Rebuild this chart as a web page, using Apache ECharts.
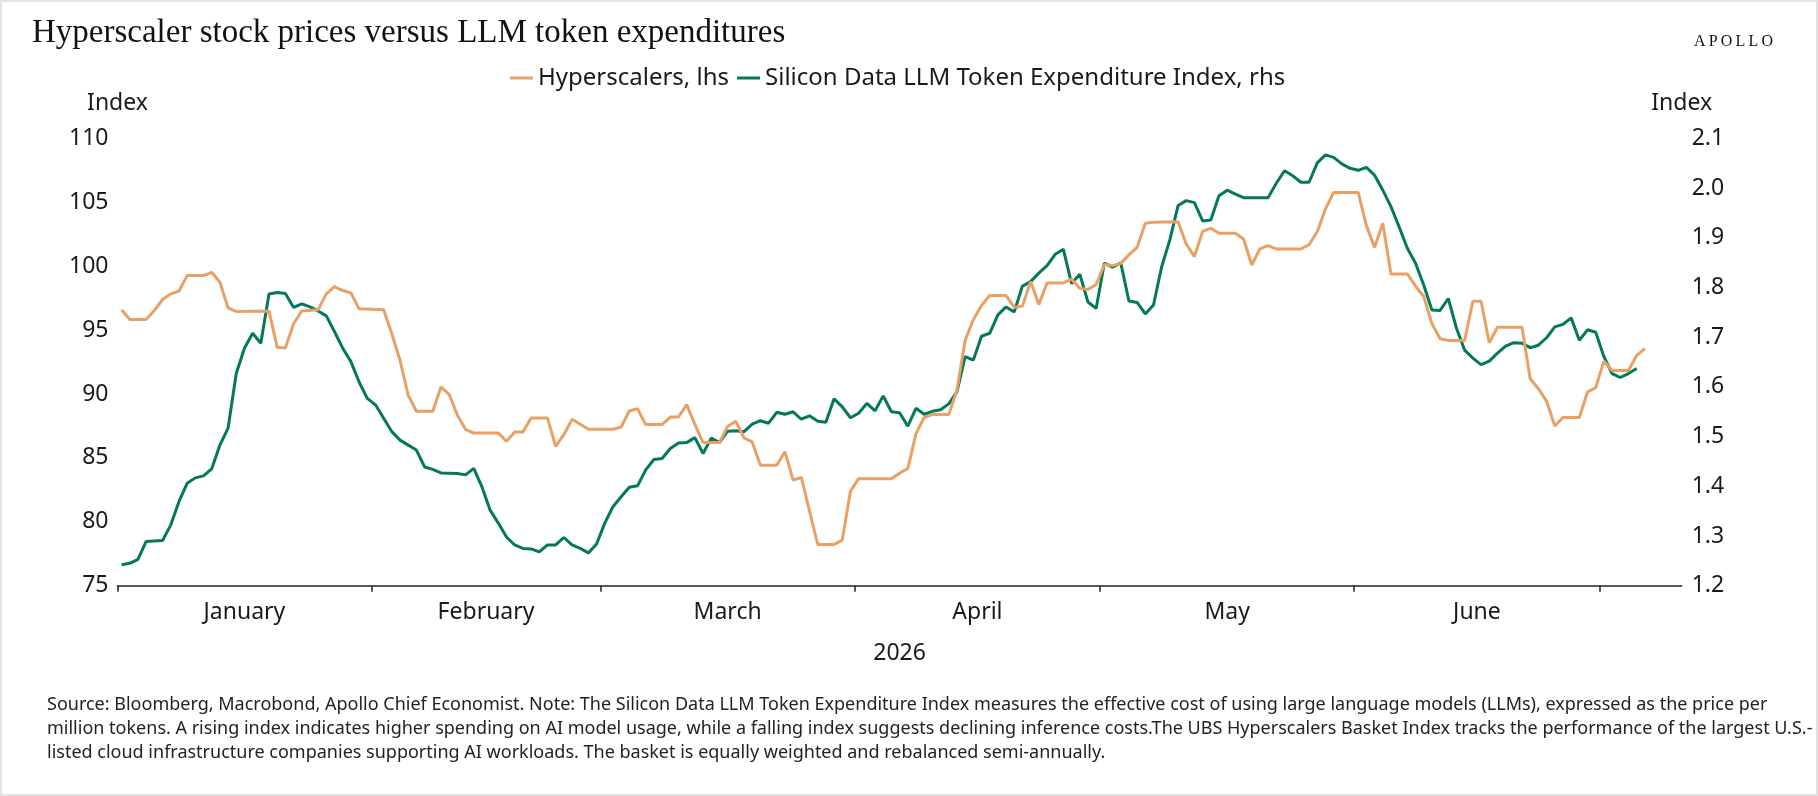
<!DOCTYPE html>
<html>
<head>
<meta charset="utf-8">
<title>Hyperscaler stock prices versus LLM token expenditures</title>
<script src="https://cdn.jsdelivr.net/npm/echarts@6/dist/echarts.min.js"></script>
<style>
  html, body { margin: 0; padding: 0; background: #fff; }
  #vis { width: 1818px; height: 796px; }
</style>
</head>
<body>
<div id="vis"></div>
<script>
const YEAR = 2026
const monthNames = ['January', 'February', 'March', 'April', 'May', 'June', 'July']
const leftTicks = [75, 80, 85, 90, 95, 100, 105, 110]
const rightTicks = [1.2, 1.3, 1.4, 1.5, 1.6, 1.7, 1.8, 1.9, 2.0, 2.1]

// UBS Hyperscalers basket, lhs  [MM-DD, index]
const hyperscalers = [
  ['01-01', 96.6], ['01-02', 95.84], ['01-04', 95.84], ['01-05', 96.54], ['01-06', 97.4], ['01-07', 97.84],
  ['01-08', 98.05], ['01-09', 99.27], ['01-11', 99.27], ['01-12', 99.53], ['01-13', 98.75], ['01-14', 96.75],
  ['01-15', 96.46], ['01-19', 96.5], ['01-20', 93.67], ['01-21', 93.6], ['01-22', 95.5], ['01-23', 96.5],
  ['01-25', 96.6], ['01-26', 97.84], ['01-27', 98.4], ['01-28', 98.1], ['01-29', 97.92], ['01-30', 96.67],
  ['02-02', 96.6], ['02-03', 94.72], ['02-04', 92.63], ['02-05', 89.9], ['02-06', 88.65], ['02-08', 88.65],
  ['02-09', 90.55], ['02-10', 89.98], ['02-11', 88.34], ['02-12', 87.24], ['02-13', 86.95], ['02-16', 86.95],
  ['02-17', 86.3], ['02-18', 87.03], ['02-19', 87.03], ['02-20', 88.13], ['02-22', 88.13], ['02-23', 85.91],
  ['02-24', 86.82], ['02-25', 88.02], ['02-26', 87.63], ['02-27', 87.24], ['03-02', 87.24], ['03-03', 87.42],
  ['03-04', 88.67], ['03-05', 88.86], ['03-06', 87.61], ['03-08', 87.61], ['03-09', 88.2], ['03-10', 88.2],
  ['03-11', 89.17], ['03-12', 87.63], ['03-13', 86.2], ['03-15', 86.2], ['03-16', 87.46], ['03-17', 87.87],
  ['03-18', 86.56], ['03-19', 86.25], ['03-20', 84.43], ['03-22', 84.43], ['03-23', 85.49], ['03-24', 83.26],
  ['03-25', 83.47], ['03-26', 80.84], ['03-27', 78.23], ['03-29', 78.23], ['03-30', 78.57], ['03-31', 82.4],
  ['04-01', 83.38], ['04-05', 83.38], ['04-06', 83.8], ['04-07', 84.17], ['04-08', 86.9], ['04-09', 88.16],
  ['04-10', 88.39], ['04-12', 88.39], ['04-13', 90.29], ['04-14', 94.2], ['04-15', 95.81], ['04-16', 96.93],
  ['04-17', 97.71], ['04-19', 97.71], ['04-20', 96.8], ['04-21', 96.88], ['04-22', 98.8], ['04-23', 97.0],
  ['04-24', 98.7], ['04-26', 98.7], ['04-27', 99.0], ['04-28', 98.28], ['04-29', 98.18], ['04-30', 98.57],
  ['05-01', 100.13], ['05-02', 100.05], ['05-03', 100.23], ['05-04', 100.89], ['05-05', 101.48], ['05-06', 103.36],
  ['05-07', 103.44], ['05-10', 103.49], ['05-11', 101.75], ['05-12', 100.76], ['05-13', 102.73], ['05-14', 102.97],
  ['05-15', 102.58], ['05-17', 102.58], ['05-18', 102.14], ['05-19', 100.1], ['05-20', 101.36], ['05-21', 101.62],
  ['05-22', 101.36], ['05-25', 101.36], ['05-26', 101.69], ['05-27', 102.71], ['05-28', 104.48], ['05-29', 105.78],
  ['06-01', 105.78], ['06-02', 103.18], ['06-03', 101.48], ['06-04', 103.36], ['06-05', 99.4], ['06-07', 99.4],
  ['06-08', 98.44], ['06-09', 97.63], ['06-10', 95.5], ['06-11', 94.33], ['06-12', 94.2], ['06-14', 94.2],
  ['06-15', 97.27], ['06-16', 97.27], ['06-17', 94.02], ['06-18', 95.23], ['06-21', 95.23], ['06-22', 91.2],
  ['06-23', 90.42], ['06-24', 89.45], ['06-25', 87.5], ['06-26', 88.16], ['06-28', 88.16], ['06-29', 90.16],
  ['06-30', 90.5], ['07-01', 92.58], ['07-02', 91.85], ['07-04', 91.85], ['07-05', 93.02], ['07-06', 93.55]
]

// Silicon Data LLM Token Expenditure Index, rhs  [MM-DD, index]
const tokenIndex = [
  ['01-01', 1.242], ['01-02', 1.245], ['01-03', 1.253], ['01-04', 1.289], ['01-06', 1.291], ['01-07', 1.322],
  ['01-08', 1.369], ['01-09', 1.406], ['01-10', 1.417], ['01-11', 1.421], ['01-12', 1.435], ['01-13', 1.483],
  ['01-14', 1.517], ['01-15', 1.627], ['01-16', 1.678], ['01-17', 1.708], ['01-18', 1.688], ['01-19', 1.787],
  ['01-20', 1.790], ['01-21', 1.788], ['01-22', 1.760], ['01-23', 1.767], ['01-24', 1.761], ['01-25', 1.753],
  ['01-26', 1.743], ['01-27', 1.711], ['01-28', 1.678], ['01-29', 1.651], ['01-30', 1.610], ['01-31', 1.577],
  ['02-01', 1.564], ['02-02', 1.537], ['02-03', 1.510], ['02-04', 1.493], ['02-06', 1.473], ['02-07', 1.439],
  ['02-08', 1.434], ['02-09', 1.427], ['02-11', 1.426], ['02-12', 1.423], ['02-13', 1.436], ['02-14', 1.399],
  ['02-15', 1.352], ['02-16', 1.326], ['02-17', 1.298], ['02-18', 1.282], ['02-19', 1.275], ['02-20', 1.274],
  ['02-21', 1.268], ['02-22', 1.282], ['02-23', 1.282], ['02-24', 1.297], ['02-25', 1.282], ['02-26', 1.275],
  ['02-27', 1.266], ['02-28', 1.284], ['03-01', 1.326], ['03-02', 1.359], ['03-03', 1.379], ['03-04', 1.398],
  ['03-05', 1.401], ['03-06', 1.433], ['03-07', 1.454], ['03-08', 1.456], ['03-09', 1.476], ['03-10', 1.487],
  ['03-11', 1.488], ['03-12', 1.498], ['03-13', 1.466], ['03-14', 1.497], ['03-15', 1.488], ['03-16', 1.511],
  ['03-17', 1.512], ['03-18', 1.510], ['03-19', 1.525], ['03-20', 1.532], ['03-21', 1.527], ['03-22', 1.549],
  ['03-23', 1.545], ['03-24', 1.550], ['03-25', 1.535], ['03-26', 1.542], ['03-27', 1.531], ['03-28', 1.529],
  ['03-29', 1.576], ['03-30', 1.560], ['03-31', 1.538], ['04-01', 1.547], ['04-02', 1.567], ['04-03', 1.552],
  ['04-04', 1.582], ['04-05', 1.550], ['04-06', 1.548], ['04-07', 1.521], ['04-08', 1.557], ['04-09', 1.545],
  ['04-10', 1.551], ['04-11', 1.554], ['04-12', 1.566], ['04-13', 1.590], ['04-14', 1.661], ['04-15', 1.654],
  ['04-16', 1.702], ['04-17', 1.708], ['04-18', 1.745], ['04-19', 1.761], ['04-20', 1.751], ['04-21', 1.803],
  ['04-22', 1.812], ['04-23', 1.829], ['04-24', 1.844], ['04-25', 1.867], ['04-26', 1.877], ['04-27', 1.808],
  ['04-28', 1.827], ['04-29', 1.771], ['04-30', 1.758], ['05-01', 1.849], ['05-02', 1.841], ['05-03', 1.850],
  ['05-04', 1.773], ['05-05', 1.770], ['05-06', 1.747], ['05-07', 1.765], ['05-08', 1.842], ['05-09', 1.896],
  ['05-10', 1.965], ['05-11', 1.975], ['05-12', 1.971], ['05-13', 1.934], ['05-14', 1.936], ['05-15', 1.985],
  ['05-16', 1.996], ['05-17', 1.988], ['05-18', 1.981], ['05-21', 1.981], ['05-22', 2.010], ['05-23', 2.035],
  ['05-24', 2.025], ['05-25', 2.012], ['05-26', 2.012], ['05-27', 2.051], ['05-28', 2.067], ['05-29', 2.062],
  ['05-30', 2.049], ['05-31', 2.040], ['06-01', 2.036], ['06-02', 2.042], ['06-03', 2.026], ['06-04', 1.996],
  ['06-05', 1.963], ['06-06', 1.922], ['06-07', 1.879], ['06-08', 1.849], ['06-09', 1.805], ['06-10', 1.755],
  ['06-11', 1.754], ['06-12', 1.778], ['06-13', 1.718], ['06-14', 1.674], ['06-15', 1.658], ['06-16', 1.645],
  ['06-17', 1.652], ['06-18', 1.668], ['06-19', 1.682], ['06-20', 1.689], ['06-21', 1.688], ['06-22', 1.679],
  ['06-23', 1.684], ['06-24', 1.699], ['06-25', 1.721], ['06-26', 1.726], ['06-27', 1.739], ['06-28', 1.694],
  ['06-29', 1.715], ['06-30', 1.710], ['07-01', 1.661], ['07-02', 1.627], ['07-03', 1.619], ['07-04', 1.627],
  ['07-05', 1.637]
]

const footnote = [
  'Source: Bloomberg, Macrobond, Apollo Chief Economist. Note: The Silicon Data LLM Token Expenditure Index measures the effective cost of using large language models (LLMs), expressed as the price per',
  'million tokens. A rising index indicates higher spending on AI model usage, while a falling index suggests declining inference costs.The UBS Hyperscalers Basket Index tracks the performance of the largest U.S.-',
  'listed cloud infrastructure companies supporting AI workloads. The basket is equally weighted and rebalanced semi-annually.'
]

const SANS = '"Noto Sans", "Open Sans", sans-serif'
const SERIF = '"Liberation Serif", "DejaVu Serif", serif'
const INK = '#1a1a1a'
const DAY = 86400000
const JAN1 = Date.UTC(YEAR, 0, 1)

// x is measured in days since 1 January; a daily observation sits mid-day
function dayOf (m, d, h) {
  return (Date.UTC(YEAR, m, d, h || 0) - JAN1) / DAY
}
function toPoint (row) {
  const [m, d] = row[0].split('-').map(Number)
  return [dayOf(m - 1, d, 12), row[1]]
}

const monthStarts = monthNames.map((_, i) => dayOf(i, 1))
const monthMids = monthNames.slice(0, 6).map((_, i) => (dayOf(i, 1) + dayOf(i + 1, 1)) / 2)

const chart = echarts.init(document.getElementById('vis'), null, { renderer: 'canvas' })

chart.setOption({
  animation: false,
  backgroundColor: '#fff',
  title: [
    {
      text: 'Hyperscaler stock prices versus LLM token expenditures',
      left: 27,
      top: 12,
      textStyle: { fontFamily: SERIF, fontSize: 33, fontWeight: 'normal', color: '#111' }
    },
    {
      text: 'A\u2009P\u2009O\u2009L\u2009L\u2009O',
      right: 40,
      top: 29,
      textStyle: { fontFamily: SERIF, fontSize: 16, fontWeight: 'normal', color: '#111' }
    },
    {
      text: footnote.join('\n'),
      left: 42,
      top: 688,
      textStyle: { fontFamily: SANS, fontSize: 18, lineHeight: 24, fontWeight: 'normal', color: '#222' }
    }
  ],
  graphic: [
    {
      type: 'rect',
      silent: true,
      shape: { x: 1, y: 1, width: 1816, height: 794 },
      style: { fill: 'none', stroke: '#e2e2e2', lineWidth: 2 }
    }
  ],
  legend: {
    left: 505,
    top: 61,
    itemWidth: 23,
    itemHeight: 3,
    itemGap: 8,
    icon: 'rect',
    textStyle: { fontFamily: SANS, fontSize: 24, color: INK },
    data: ['Hyperscalers, lhs', 'Silicon Data LLM Token Expenditure Index, rhs']
  },
  grid: { left: 117.5, right: 136.3, top: 138.5, bottom: 210.3, containLabel: false },
  xAxis: {
    type: 'value',
    min: 0,
    max: dayOf(6, 11),
    name: String(YEAR),
    nameLocation: 'middle',
    nameGap: 56,
    nameTextStyle: { fontFamily: SANS, fontSize: 23, color: INK },
    axisLine: { show: true, lineStyle: { color: '#222', width: 1.5 } },
    axisTick: { show: true, length: 6, customValues: monthStarts, lineStyle: { color: '#222', width: 1.5 } },
    axisLabel: {
      customValues: monthMids,
      margin: 15,
      fontFamily: SANS,
      fontSize: 23,
      color: INK,
      formatter: (value) => monthNames[monthMids.indexOf(value)] || ''
    },
    splitLine: { show: false }
  },
  yAxis: [
    {
      type: 'value',
      position: 'left',
      min: leftTicks[0],
      max: leftTicks[leftTicks.length - 1],
      interval: 5,
      name: 'Index',
      nameLocation: 'end',
      nameGap: 35,
      nameTextStyle: { fontFamily: SANS, fontSize: 23, color: INK, align: 'center', verticalAlign: 'middle' },
      axisLine: { show: false },
      axisTick: { show: false },
      splitLine: { show: false },
      axisLabel: { margin: 9, fontFamily: SANS, fontSize: 23, color: INK }
    },
    {
      type: 'value',
      position: 'right',
      min: rightTicks[0],
      max: rightTicks[rightTicks.length - 1],
      interval: 0.1,
      name: 'Index',
      nameLocation: 'end',
      nameGap: 35,
      nameTextStyle: { fontFamily: SANS, fontSize: 23, color: INK, align: 'center', verticalAlign: 'middle' },
      axisLine: { show: false },
      axisTick: { show: false },
      splitLine: { show: false },
      axisLabel: {
        margin: 10,
        fontFamily: SANS,
        fontSize: 23,
        color: INK,
        formatter: (v) => v.toFixed(1)
      }
    }
  ],
  series: [
    {
      name: 'Hyperscalers, lhs',
      type: 'line',
      yAxisIndex: 0,
      showSymbol: false,
      color: '#E9A064',
      lineStyle: { width: 3, color: '#E9A064' },
      z: 3,
      data: hyperscalers.map(toPoint)
    },
    {
      name: 'Silicon Data LLM Token Expenditure Index, rhs',
      type: 'line',
      yAxisIndex: 1,
      showSymbol: false,
      color: '#03785A',
      lineStyle: { width: 3, color: '#03785A' },
      z: 2,
      data: tokenIndex.map(toPoint)
    }
  ]
})

window.addEventListener('resize', () => chart.resize())
</script>
</body>
</html>
